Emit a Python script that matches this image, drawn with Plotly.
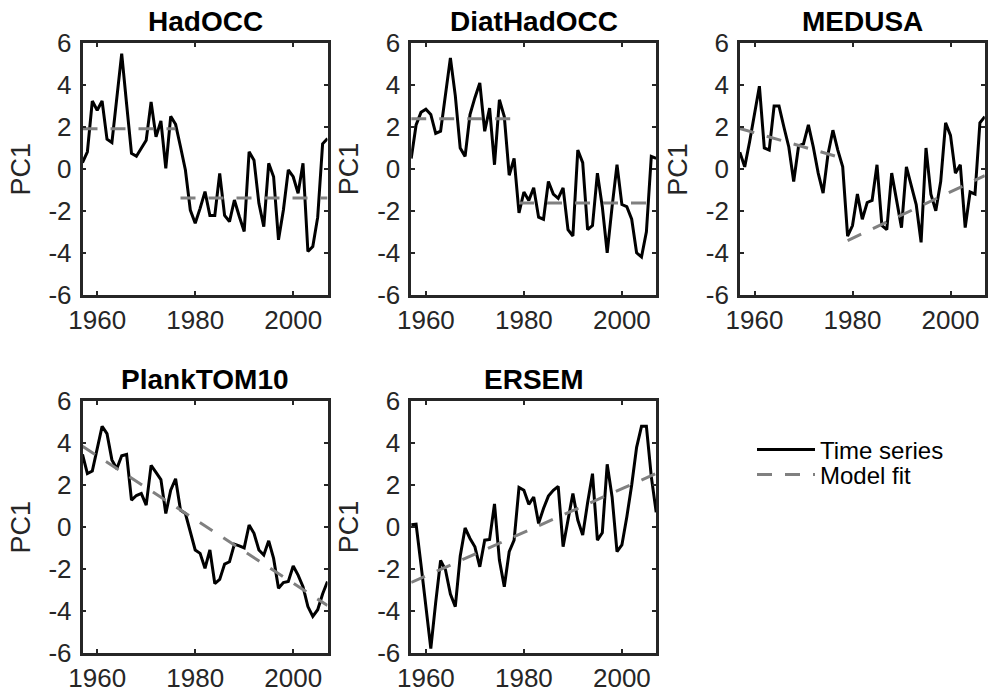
import plotly.graph_objects as go

# ---------------- data ----------------
years = [1957, 1958, 1959, 1960, 1961, 1962, 1963, 1964, 1965, 1966,
         1967, 1968, 1969, 1970, 1971, 1972, 1973, 1974, 1975, 1976,
         1977, 1978, 1979, 1980, 1981, 1982, 1983, 1984, 1985, 1986,
         1987, 1988, 1989, 1990, 1991, 1992, 1993, 1994, 1995, 1996,
         1997, 1998, 1999, 2000, 2001, 2002, 2003, 2004, 2005, 2006, 2007]

hadocc = [0.30, 0.82, 3.24, 2.80, 3.24, 1.42, 1.26, 3.3, 5.5, 3.1,
          0.74, 0.61, 0.98, 1.37, 3.2, 1.53, 2.29, 0.03, 2.51, 2.13,
          1.06, -0.05, -1.96, -2.59, -1.88, -1.08, -2.22, -2.22, -0.21, -2.22,
          -2.51, -1.48, -2.27, -2.98, 0.82, 0.42, -1.64, -2.75, 0.27, -0.37,
          -3.38, -1.96, -0.05, -0.37, -1.16, 0.27, -3.94, -3.7, -2.3, 1.2, 1.45]

diathadocc = [0.5, 2.1, 2.7, 2.85, 2.6, 1.7, 1.8, 3.5, 5.3, 3.5,
              1.0, 0.6, 2.6, 3.4, 4.1, 1.8, 2.9, 0.2, 3.3, 2.5,
              -0.3, 0.5, -2.1, -1.1, -1.5, -0.9, -2.3, -2.4, -0.6, -1.2,
              -1.4, -0.9, -2.9, -3.2, 0.9, 0.3, -2.9, -2.7, -0.2, -1.8,
              -4.0, -1.8, 0.2, -1.7, -1.8, -2.4, -4.0, -4.2, -3.0, 0.6, 0.5]

medusa = [0.8, 0.1, 1.3, 2.6, 3.95, 1.0, 0.9, 3.0, 3.0, 2.0,
          1.05, -0.6, 1.1, 1.2, 2.1, 1.05, -0.2, -1.15, 0.7, 1.85,
          0.9, 0.1, -3.2, -2.7, -1.2, -2.4, -1.6, -1.5, 0.2, -2.7,
          -2.9, -0.2, -1.6, -2.8, 0.1, -0.8, -1.7, -3.5, 1.0, -1.2,
          -2.0, -0.6, 2.2, 1.6, -0.2, 0.2, -2.8, -1.1, -1.2, 2.2, 2.5]

planktom10 = [3.46, 2.55, 2.67, 3.8, 4.8, 4.45, 3.2, 2.78, 3.4, 3.46,
              1.28, 1.5, 1.6, 1.04, 2.94, 2.6, 2.26, 0.64, 1.75, 2.3,
              0.8, 0.64, -0.3, -1.1, -1.26, -1.97, -1.1, -2.7, -2.5, -1.77,
              -1.66, -0.82, -0.9, -1.0, 0.09, -0.3, -1.1, -1.34, -0.66, -1.5,
              -2.92, -2.65, -2.6, -1.86, -2.3, -2.85, -3.8, -4.27, -3.95, -3.2, -2.6]

ersem = [0.1, 0.13, -1.8, -3.8, -5.8, -3.6, -1.6, -2.05, -3.2, -3.8,
         -1.4, -0.05, -0.55, -0.95, -1.9, -0.63, -0.6, 1.1, -1.58, -2.85,
         -1.18, -0.63, 1.88, 1.75, 1.08, 1.43, 0.17, 0.88, 1.47, 1.75,
         1.94, -0.94, 0.25, 1.6, 0.33, -0.39, 1.15, 2.54, -0.63, -0.28,
         2.99, 1.43, -1.18, -0.86, 0.48, 2.0, 3.8, 4.8, 4.8, 2.4, 0.7]

# model fits: (years, values) segments per panel
hadocc_fit_years = [[1957, 1976], [1977, 2007]]
hadocc_fit_vals = [[1.92, 1.92], [-1.39, -1.39]]
diathadocc_fit_years = [[1957, 1978], [1979, 2007]]
diathadocc_fit_vals = [[2.4, 2.4], [-1.62, -1.62]]
medusa_fit_years = [[1957, 1977], [1979, 2007]]
medusa_fit_vals = [[1.93, 0.58], [-3.42, -0.32]]
planktom10_fit_years = [[1957, 2007]]
planktom10_fit_vals = [[3.85, -3.75]]
ersem_fit_years = [[1957, 2007]]
ersem_fit_vals = [[-2.65, 2.55]]

panel_titles = ["HadOCC", "DiatHadOCC", "MEDUSA", "PlankTOM10", "ERSEM"]
y_label = "PC1"
legend_labels = ["Time series", "Model fit"]
x_tick_vals = [1960, 1980, 2000]
x_tick_text = ["1960", "1980", "2000"]
y_tick_vals = [-6, -4, -2, 0, 2, 4, 6]
y_tick_text = ["-6", "-4", "-2", "0", "2", "4", "6"]
x_range = [1957, 2007]
y_range = [-6, 6]

series = [hadocc, diathadocc, medusa, planktom10, ersem]
fit_years = [hadocc_fit_years, diathadocc_fit_years, medusa_fit_years,
             planktom10_fit_years, ersem_fit_years]
fit_vals = [hadocc_fit_vals, diathadocc_fit_vals, medusa_fit_vals,
            planktom10_fit_vals, ersem_fit_vals]

# ---------------- layout geometry (pixels) ----------------
W, H = 991, 695
col_left = [82.5, 411.2, 739.8]
ax_w = 245.0
row_top = [43.2, 401.2]
ax_h = 251.5
positions = [(0, 0), (0, 1), (0, 2), (1, 0), (1, 1)]

FONT = "Liberation Sans, Arial, Helvetica, sans-serif"
AXC = "#262626"

fig = go.Figure()
layout = dict(
    template="none",
    width=W, height=H,
    margin=dict(l=0, r=0, t=0, b=0, pad=0),
    paper_bgcolor="white", plot_bgcolor="white",
    font=dict(family=FONT, color=AXC),
    annotations=[],
)

for i, (r, c) in enumerate(positions):
    n = "" if i == 0 else str(i + 1)
    x0 = col_left[c] / W
    x1 = (col_left[c] + ax_w) / W
    y1 = 1 - row_top[r] / H
    y0 = 1 - (row_top[r] + ax_h) / H
    common = dict(showline=True, linewidth=2.5, linecolor=AXC, mirror="ticks",
                  ticks="inside", ticklen=4, tickwidth=2, tickcolor=AXC,
                  showgrid=False, zeroline=False, automargin=False,
                  tickfont=dict(family=FONT, size=26, color=AXC))
    layout["xaxis" + n] = dict(domain=[x0, x1], range=x_range, anchor="y" + n,
                               tickvals=x_tick_vals, ticktext=x_tick_text,
                               **common)
    layout["yaxis" + n] = dict(domain=[y0, y1], range=y_range, anchor="x" + n,
                               tickvals=y_tick_vals, ticktext=y_tick_text,
                               ticklabelstandoff=3, **common)
    fig.add_trace(go.Scatter(
        x=years, y=series[i], mode="lines",
        line=dict(color="black", width=3),
        name=legend_labels[0], showlegend=(i == 0), legend="legend",
        xaxis="x" + n, yaxis="y" + n))
    for j, (fy, fv) in enumerate(zip(fit_years[i], fit_vals[i])):
        fig.add_trace(go.Scatter(
            x=fy, y=fv, mode="lines",
            line=dict(color="#808080", width=3, dash="15px,13px"),
            name=legend_labels[1], showlegend=(i == 0 and j == 0), legend="legend2",
            xaxis="x" + n, yaxis="y" + n))
    # title
    layout["annotations"].append(dict(
        text="<b>" + panel_titles[i] + "</b>", xref="paper", yref="paper",
        x=(x0 + x1) / 2, y=y1, xanchor="center", yanchor="bottom", yshift=4,
        showarrow=False, font=dict(family=FONT, size=28, color="black")))
    # y label
    layout["annotations"].append(dict(
        text=y_label, xref="paper", yref="paper",
        x=(col_left[c] - 62) / W, y=(y0 + y1) / 2, xanchor="center", yanchor="middle",
        textangle=-90, showarrow=False, font=dict(family=FONT, size=27, color=AXC)))

layout["legend"] = dict(x=752 / W, y=1 - 450 / H, xanchor="left", yanchor="middle",
                        bgcolor="rgba(0,0,0,0)", font=dict(family=FONT, size=24, color="black"),
                        itemwidth=58, borderwidth=0)
layout["legend2"] = dict(x=752 / W, y=1 - 475 / H, xanchor="left", yanchor="middle",
                         bgcolor="rgba(0,0,0,0)", font=dict(family=FONT, size=24, color="black"),
                         itemwidth=58, borderwidth=0)

fig.update_layout(**layout)
fig.write_html("out.html",
               config={"displayModeBar": False},
               post_script="document.body.style.margin='0px';document.body.style.overflow='hidden';")
